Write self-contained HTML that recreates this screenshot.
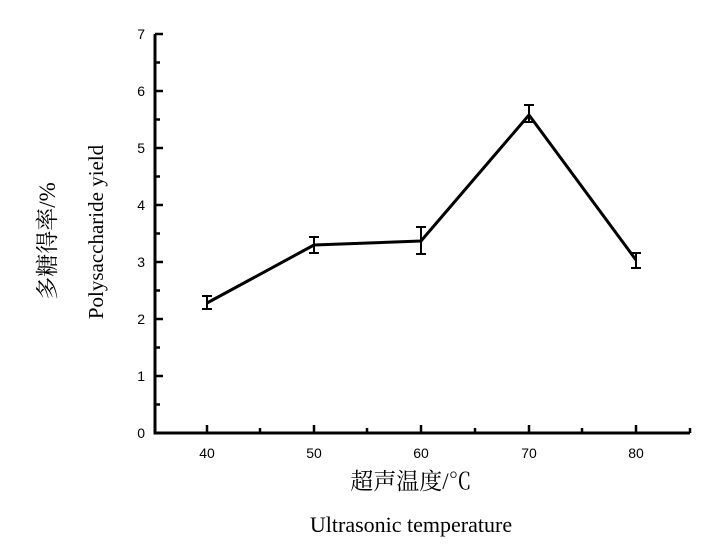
<!DOCTYPE html><html><head><style>body{margin:0;background:#fff}</style></head><body>
<svg width="723" height="544" xmlns="http://www.w3.org/2000/svg" font-family="Liberation Sans, sans-serif">
<rect width="723" height="544" fill="#fff"/>
<g stroke="#000" stroke-width="3" fill="none">
<polyline points="155,34 155,433 690,433"/>
</g>
<g stroke="#000" stroke-width="2.5">
<line x1="155" y1="34" x2="163" y2="34"/><line x1="155" y1="91" x2="163" y2="91"/><line x1="155" y1="148" x2="163" y2="148"/><line x1="155" y1="205" x2="163" y2="205"/><line x1="155" y1="262" x2="163" y2="262"/><line x1="155" y1="319" x2="163" y2="319"/><line x1="155" y1="376" x2="163" y2="376"/>
<line x1="155" y1="62.5" x2="160" y2="62.5"/><line x1="155" y1="119.5" x2="160" y2="119.5"/><line x1="155" y1="176.5" x2="160" y2="176.5"/><line x1="155" y1="233.5" x2="160" y2="233.5"/><line x1="155" y1="290.5" x2="160" y2="290.5"/><line x1="155" y1="347.5" x2="160" y2="347.5"/><line x1="155" y1="404.5" x2="160" y2="404.5"/>
<line x1="207" y1="433" x2="207" y2="425"/><line x1="314" y1="433" x2="314" y2="425"/><line x1="421" y1="433" x2="421" y2="425"/><line x1="529" y1="433" x2="529" y2="425"/><line x1="636" y1="433" x2="636" y2="425"/>
<line x1="260" y1="433" x2="260" y2="428"/><line x1="367" y1="433" x2="367" y2="428"/><line x1="475" y1="433" x2="475" y2="428"/><line x1="582" y1="433" x2="582" y2="428"/><line x1="690" y1="433" x2="690" y2="428"/>
</g>
<polyline points="207,303 314,245 421,241 529,115 636,260" fill="none" stroke="#000" stroke-width="3" stroke-linejoin="round"/>
<g stroke="#000" stroke-width="2">
<line x1="207" y1="296" x2="207" y2="309"/><line x1="202" y1="296" x2="212" y2="296"/><line x1="202" y1="309" x2="212" y2="309"/>
<line x1="314" y1="237" x2="314" y2="253"/><line x1="309" y1="237" x2="319" y2="237"/><line x1="309" y1="253" x2="319" y2="253"/>
<line x1="421" y1="227" x2="421" y2="254"/><line x1="416" y1="227" x2="426" y2="227"/><line x1="416" y1="254" x2="426" y2="254"/>
<line x1="529" y1="105" x2="529" y2="122"/><line x1="524" y1="105" x2="534" y2="105"/><line x1="524" y1="122" x2="534" y2="122"/>
<line x1="636" y1="253" x2="636" y2="268"/><line x1="631" y1="253" x2="641" y2="253"/><line x1="631" y1="268" x2="641" y2="268"/>
</g>
<g font-size="14" text-anchor="end">
<text x="145" y="39">7</text><text x="145" y="96">6</text><text x="145" y="153">5</text><text x="145" y="210">4</text><text x="145" y="267">3</text><text x="145" y="324">2</text><text x="145" y="381">1</text><text x="145" y="438">0</text>
</g>
<g font-size="14" text-anchor="middle">
<text x="207" y="458">40</text><text x="314" y="458">50</text><text x="421" y="458">60</text><text x="529" y="458">70</text><text x="636" y="458">80</text>
</g>
<text x="411" y="489" font-size="23" text-anchor="middle" font-family="Liberation Serif, Noto Serif CJK SC, serif">超声温度/℃</text>
<text x="411" y="532" font-size="22" text-anchor="middle" font-family="Liberation Serif, serif">Ultrasonic temperature</text>
<text transform="translate(55,241) rotate(-90)" font-size="23" text-anchor="middle" font-family="Liberation Serif, Noto Serif CJK SC, serif">多糖得率/%</text>
<text transform="translate(103,232) rotate(-90)" font-size="21" text-anchor="middle" font-family="Liberation Serif, serif">Polysaccharide yield</text>
</svg>
</body></html>
